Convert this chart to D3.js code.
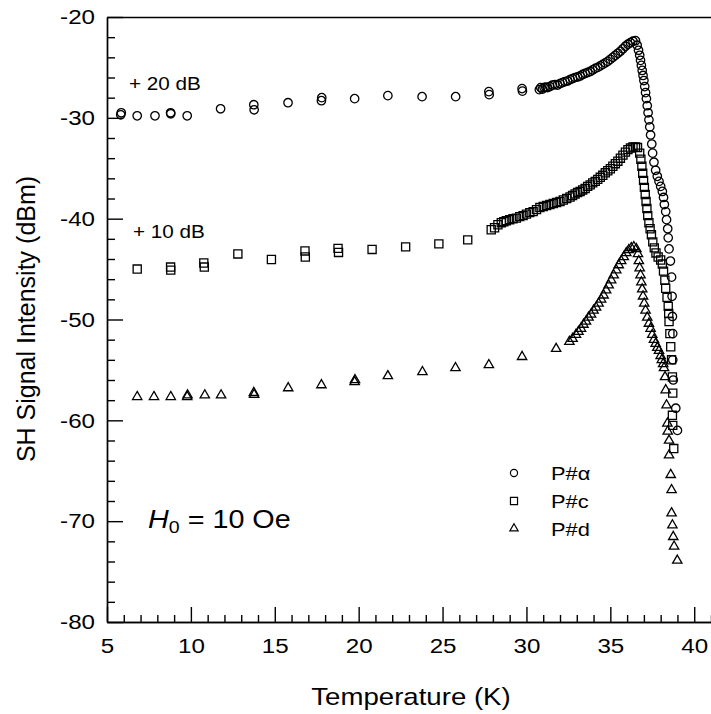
<!DOCTYPE html>
<html>
<head>
<meta charset="utf-8">
<script src="https://cdn.jsdelivr.net/npm/d3@7"></script>
<style>
  body { margin: 0; background: #fff; }
  svg { display: block; }
  text { font-family: Arial, "Liberation Sans", sans-serif; fill: #000; }
</style>
</head>
<body>
<svg id="chart" width="711" height="714"></svg>
<script>
// P#alpha (circles), shifted +20 dB
var alphaT = [5.82,5.85,6.80,7.86,8.79,8.80,9.78,11.77,13.75,13.77,15.79,17.78,17.80,19.76,21.74,23.78,25.78,27.76,27.78,29.74,29.76,
  30.77,30.85,30.95,31.05,31.15,31.25,31.4,31.55,31.7,31.85,32.0,32.15,32.3,32.45,32.6,32.75,32.9,33.05,33.2,33.35,33.5,33.65,33.8,33.95,
  34.1,34.25,34.4,34.55,34.7,34.85,35.0,35.15,35.3,35.45,35.6,35.75,35.9,36.05,36.2,36.35,36.5,
  36.6,36.68,36.75,36.8,36.85,36.9,36.95,37.0,37.05,37.1,37.15,37.2,37.25,37.3,37.35,37.4,37.47,37.52,37.6,37.7,37.8,37.9,38.0,38.1,
  38.17,38.22,38.3,38.35,38.42,38.45,38.5,38.58,38.65,38.68,38.7,38.72,38.72,38.75,38.9,39.0]
var alphaV = [-29.7,-29.5,-29.8,-29.8,-29.5,-29.6,-29.8,-29.1,-28.7,-29.2,-28.5,-28.3,-28.0,-28.1,-27.8,-27.9,-27.9,-27.4,-27.7,-27.1,-27.35,
  -27.2,-27.0,-27.15,-27.0,-26.95,-27.0,-26.9,-26.75,-26.7,-26.75,-26.6,-26.5,-26.4,-26.35,-26.2,-26.1,-26.0,-25.95,-25.85,-25.7,-25.6,-25.5,-25.4,-25.25,
  -25.1,-25.0,-24.85,-24.7,-24.55,-24.4,-24.2,-24.0,-23.8,-23.6,-23.4,-23.15,-22.9,-22.7,-22.55,-22.4,-22.35,
  -22.8,-23.3,-23.8,-24.3,-24.8,-25.3,-25.8,-26.3,-26.9,-27.5,-28.1,-28.8,-29.5,-30.2,-30.9,-31.7,-32.6,-33.5,-34.4,-35.2,-35.8,-36.3,-36.8,-37.3,
  -37.9,-38.6,-39.3,-40.1,-41.0,-41.9,-43.0,-44.2,-45.8,-47.7,-49.7,-51.4,-54.0,-56.0,-58.8,-61.0]

// P#c (squares), shifted +10 dB
var cT = [6.8,8.79,8.8,10.77,10.8,12.8,14.8,16.8,16.82,18.77,18.8,20.8,22.8,24.78,26.5,
  27.9,28.1,28.3,28.5,28.65,28.8,29.0,29.2,29.4,29.6,29.8,30.0,30.2,30.4,30.6,30.8,31.0,31.2,31.4,31.6,31.8,32.0,32.2,32.4,32.6,32.75,32.9,
  33.05,33.2,33.35,33.5,33.65,33.8,33.95,34.1,34.25,34.4,34.55,34.7,34.85,35.0,35.15,35.3,35.45,35.6,35.75,35.9,36.05,36.2,36.35,36.5,36.62,
  36.75,36.82,36.88,36.93,36.98,37.03,37.08,37.13,37.18,37.23,37.3,37.37,37.45,37.53,37.62,37.72,37.85,38.0,38.1,38.17,38.25,38.3,38.38,
  38.45,38.48,38.5,38.55,38.6,38.65,38.7,38.72,38.7,38.72,38.78]
var cV = [-45.0,-44.8,-45.1,-44.4,-44.8,-43.5,-44.05,-43.2,-43.8,-42.95,-43.35,-43.05,-42.8,-42.5,-42.1,
  -41.1,-40.9,-40.6,-40.4,-40.3,-40.2,-40.1,-40.0,-39.95,-39.8,-39.7,-39.55,-39.4,-39.3,-39.1,-38.9,-38.8,-38.7,-38.6,-38.5,-38.4,-38.3,-38.15,-38.0,-37.85,-37.7,-37.55,
  -37.4,-37.3,-37.15,-37.0,-36.8,-36.65,-36.45,-36.3,-36.1,-35.9,-35.7,-35.45,-35.25,-35.05,-34.8,-34.55,-34.3,-34.0,-33.7,-33.4,-33.15,-33.0,-32.9,-32.9,-32.95,
  -33.5,-34.1,-34.8,-35.5,-36.2,-36.9,-37.6,-38.3,-39.0,-39.7,-40.4,-41.0,-41.6,-42.3,-42.9,-43.4,-43.8,-44.1,-44.5,-45.2,-46.1,-46.9,-47.8,
  -48.7,-49.4,-50.2,-51.4,-52.7,-54.0,-55.7,-57.3,-59.5,-60.5,-62.8]

// P#d (triangles)
var dT = [6.8,7.8,8.8,9.78,9.8,10.83,11.8,13.75,13.77,15.8,17.78,19.76,19.78,21.74,23.8,25.77,27.76,29.74,31.77,32.56,
  32.75,32.95,33.1,33.25,33.4,33.55,33.7,33.85,34.0,34.15,34.3,34.45,34.6,34.75,34.9,35.05,35.2,35.35,35.5,35.65,35.8,35.95,36.1,36.25,36.4,36.55,
  36.65,36.7,36.75,36.8,36.85,36.9,36.95,37.02,37.1,37.2,37.3,37.4,37.5,37.6,37.7,37.8,37.9,38.0,38.07,38.15,38.2,38.26,38.3,38.35,38.4,
  38.42,38.5,38.5,38.6,38.65,38.65,38.7,38.75,38.8,38.99]
var dV = [-57.67,-57.67,-57.67,-57.67,-57.5,-57.5,-57.5,-57.27,-57.45,-56.8,-56.5,-56.2,-56.0,-55.6,-55.2,-54.8,-54.5,-53.7,-52.9,-52.2,
  -51.9,-51.5,-51.2,-50.9,-50.5,-50.2,-49.8,-49.5,-49.1,-48.8,-48.4,-48.0,-47.6,-47.1,-46.6,-46.1,-45.6,-45.1,-44.6,-44.2,-43.8,-43.4,-43.1,-42.9,-42.8,-43.0,
  -43.5,-44.2,-44.9,-45.6,-46.3,-47.0,-47.7,-48.4,-49.1,-49.8,-50.4,-50.9,-51.5,-52.0,-52.4,-52.8,-53.1,-53.6,-54.0,-54.4,-54.8,-55.7,-57.0,-58.5,-60.3,
  -61.1,-62.0,-63.45,-65.4,-66.9,-69.2,-70.4,-71.55,-72.5,-73.9]

var xTicks = [5,10,15,20,25,30,35,40]
var yTicks = [-80,-70,-60,-50,-40,-30,-20]
var seriesNames = ["P#\u03b1","P#c","P#d"]

var svg = d3.select("#chart")
var sx = 1.15 // text in the original is a bit wider than tall

var x = d3.scaleLinear().domain([5, 41]).range([107, 711])
var y = d3.scaleLinear().domain([-80, -20]).range([622, 17])

var minorX = d3.range(5, 42, 1).filter(function(v){ return v % 5 != 0 })
var minorY = d3.range(-80, -19, 2).filter(function(v){ return v % 10 != 0 })
var plain = function(d){ return String(d) } // hyphen, not unicode minus

// minor ticks
svg.append("g").attr("transform", "translate(0,622)")
  .call(d3.axisBottom(x).tickValues(minorX).tickSize(-7).tickSizeOuter(0).tickFormat(""))
svg.append("g").attr("transform", "translate(107,0)")
  .call(d3.axisLeft(y).tickValues(minorY).tickSize(-8).tickSizeOuter(0).tickFormat(""))

// major ticks + labels
var gx = svg.append("g").attr("transform", "translate(0,622)")
  .call(d3.axisBottom(x).tickValues(xTicks).tickSize(-15).tickSizeOuter(0).tickPadding(16).tickFormat(plain))
var gy = svg.append("g").attr("transform", "translate(107,0)")
  .call(d3.axisLeft(y).tickValues(yTicks).tickSize(-16).tickSizeOuter(0).tickPadding(12).tickFormat(plain))
// top frame line
svg.append("g").attr("transform", "translate(0,17)")
  .call(d3.axisTop(x).tickValues([]).tickSizeOuter(0))

svg.selectAll(".domain, .tick line").attr("stroke", "#000").attr("stroke-width", 1.4)

gx.selectAll("text").attr("font-size", 21).attr("font-family", null)
  .attr("x", 0).attr("transform", "scale(" + sx + ",1)")
gy.selectAll("text").attr("font-size", 21).attr("font-family", null)
  .attr("x", 0).attr("transform", "translate(-12,0) scale(" + sx + ",1)")

// axis titles
svg.append("text")
  .attr("transform", "translate(411,705) scale(" + sx + ",1)")
  .attr("text-anchor", "middle").attr("font-size", 24)
  .text("Temperature (K)")
svg.append("text")
  .attr("transform", "translate(35,319) rotate(-90)")
  .attr("text-anchor", "middle").attr("font-size", 25)
  .text("SH Signal Intensity (dBm)")

// marks
function pts(T, V){ return T.map(function(t, i){ return [t, V[i]] }) }
var series = [
  {data: pts(alphaT, alphaV), type: d3.symbolCircle, size: 56},
  {data: pts(cT, cV), type: d3.symbolSquare, size: 66},
  {data: pts(dT, dV), type: d3.symbolTriangle, size: 38}
]

series.forEach(function(s){
  svg.append("g").selectAll("path")
    .data(s.data)
    .enter()
    .append("path")
    .attr("d", d3.symbol().type(s.type).size(s.size))
    .attr("transform", function(d){ return "translate(" + x(d[0]) + "," + y(d[1]) + ")" })
    .attr("fill", "none")
    .attr("stroke", "#000")
    .attr("stroke-width", 1.3)
})

// annotations
svg.append("text").attr("transform", "translate(129,90) scale(" + sx + ",1)")
  .attr("font-size", 18).text("+ 20 dB")
svg.append("text").attr("transform", "translate(133,238) scale(" + sx + ",1)")
  .attr("font-size", 18).text("+ 10 dB")

var h0 = svg.append("text").attr("transform", "translate(148,528) scale(" + sx + ",1)")
  .attr("font-size", 25)
h0.append("tspan").attr("font-style", "italic").text("H")
h0.append("tspan").attr("font-size", 17).attr("dy", 5).text("0")
h0.append("tspan").attr("dy", -5).text(" = 10 Oe")

// legend
var legendY = [473, 501, 528.5]
var legendSym = [d3.symbolCircle, d3.symbolSquare, d3.symbolTriangle]
var legendSize = [40, 50, 30]
var lg = svg.append("g")
seriesNames.forEach(function(name, i){
  lg.append("path")
    .attr("d", d3.symbol().type(legendSym[i]).size(legendSize[i]))
    .attr("transform", "translate(514," + legendY[i] + ")")
    .attr("fill", "none").attr("stroke", "#000").attr("stroke-width", 1.2)
  lg.append("text")
    .attr("transform", "translate(551," + (legendY[i] + 7) + ") scale(" + sx + ",1)")
    .attr("font-size", 19)
    .text(name)
})
</script>
</body>
</html>
